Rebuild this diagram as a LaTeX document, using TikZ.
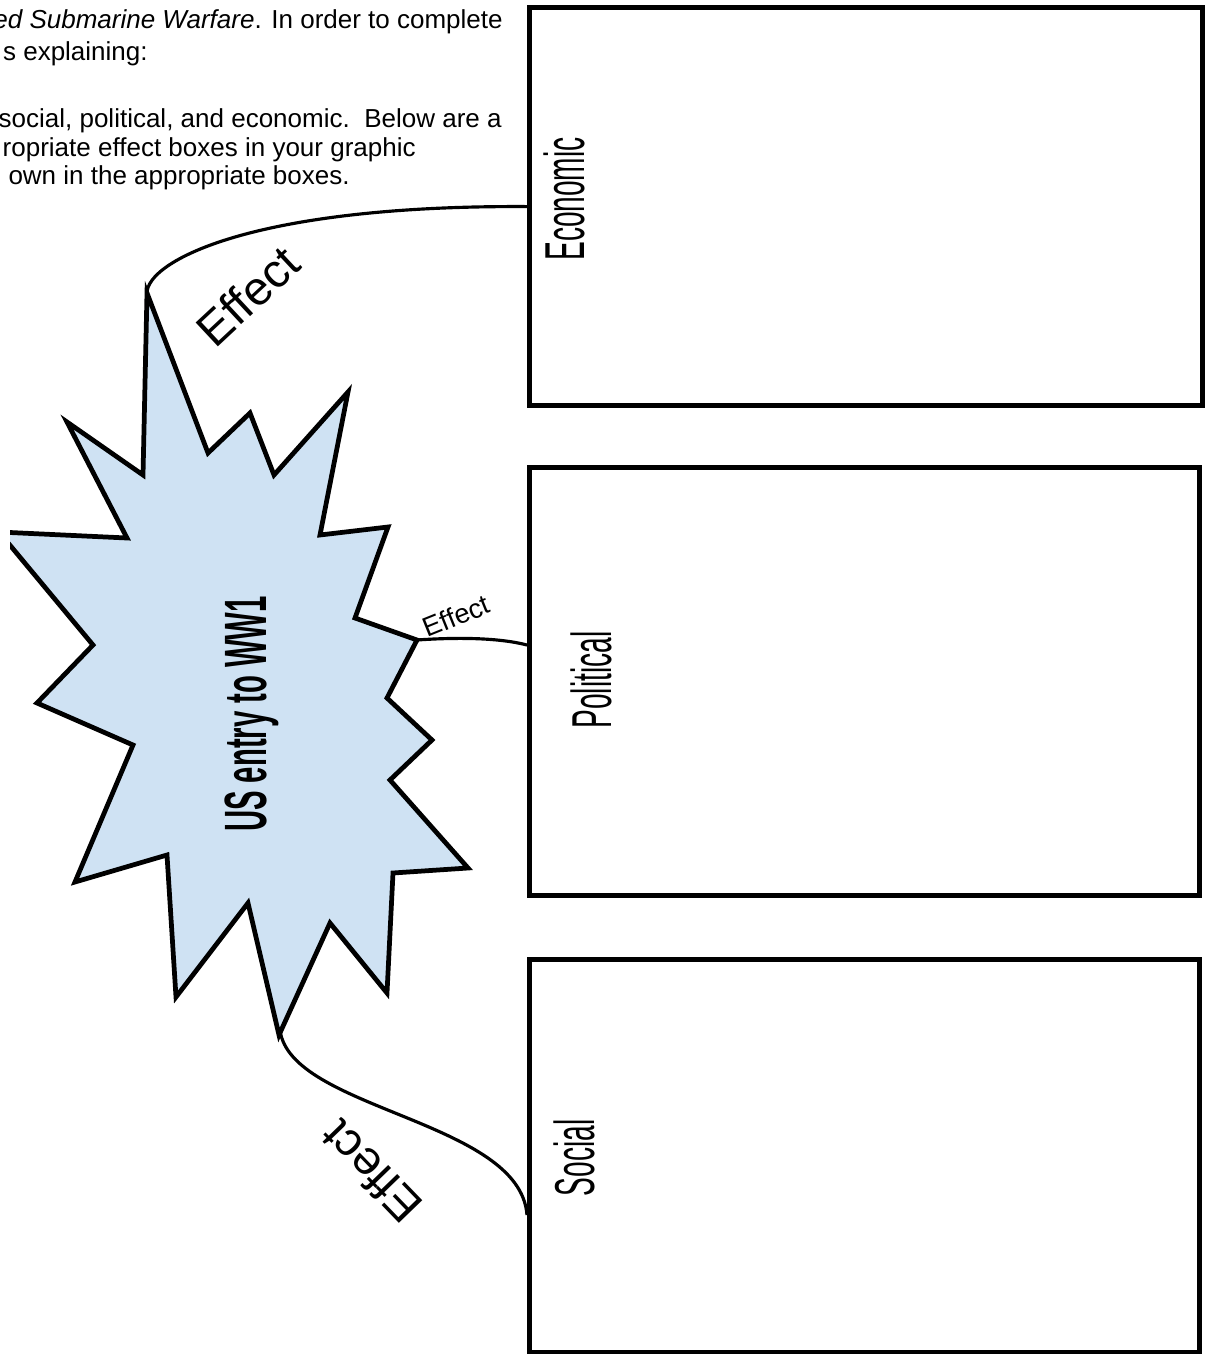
\documentclass[tikz,border=0pt]{standalone}
\usepackage{fontspec}
\setmainfont{Liberation Sans}
\newfontfamily\boxlabelfont[FakeStretch=0.5]{Liberation Sans}
\newfontfamily\burstfont[FakeStretch=0.49]{Liberation Sans}
\usepackage{xcolor}
\definecolor{burstfill}{RGB}{207, 226, 243}
\usepackage{tikz}
\usetikzlibrary{calc}

\begin{document}
\begin{tikzpicture}[x=0.02cm, y=-0.02cm,
  effectbox/.style={draw, line width=3pt, anchor=north west, inner sep=0pt},
  boxlabel/.style={rotate=90, inner sep=0pt, font=\boxlabelfont\fontsize{32}{36}\selectfont},
  effectlabel/.style={inner sep=0pt, font=\fontsize{#1}{#1}\selectfont},
  textline/.style={anchor=base east, inner sep=0pt, font=\fontsize{14.8}{17}\selectfont},
  link/.style={line width=1.8pt}]
  \useasboundingbox (0,0) rectangle (1211,1354);
  % instructions, cut off at the left
  \node[textline] (line1) at (503,29) {\textit{ed Submarine Warfare}. In order to complete};
  \node[textline] (line2) at (148,61) {s explaining:};
  \node[textline] (line3) at (502,128) {social, political, and economic.\ \ Below are a};
  \node[textline] (line4) at (416,157) {ropriate effect boxes in your graphic};
  \node[textline] (line5) at (350,185) {own in the appropriate boxes.};
  % effect boxes
  \node[effectbox, minimum width=13.46cm, minimum height=7.96cm] (econ) at (527,5) {};
  \node[effectbox, minimum width=13.4cm, minimum height=8.56cm] (pol) at (527,465) {};
  \node[effectbox, minimum width=13.4cm, minimum height=7.86cm] (soc) at (527,957) {};
  \node[boxlabel] (econlabel) at (564,199) {Economic};
  \node[boxlabel] (pollabel) at (591,680) {Political};
  \node[boxlabel] (soclabel) at (574,1158) {Social};
  % the burst, cut at the left edge
  \begin{scope}
    \clip (10,0) rectangle (1211,1354);
    \draw[fill=burstfill, line width=2.7pt] (147,293) -- (208,453) -- (250,413) -- (274,475)
      -- (348,392) -- (320,535) -- (388,527) -- (355,618) -- (417,640) -- (387,698)
      -- (432,740) -- (390,780) -- (468,868) -- (393,873) -- (387,993) -- (330,923)
      -- (279,1035) -- (248,903) -- (176,997) -- (167,855) -- (75,882) -- (133,745)
      -- (37,703) -- (93,645) -- (-1,532) -- (127,538) -- (67,422) -- (143,475) -- cycle;
  \end{scope}
  \node[rotate=90, inner sep=0pt, font=\burstfont\bfseries\fontsize{34}{36}\selectfont] (burstlabel) at (252,714) {US entry to WW1};
  \coordinate (econtip) at (147,293);
  \coordinate (poltip) at (417,640);
  \coordinate (soctip) at (280,1030);
  \coordinate (polin) at (527,645);
  \coordinate (socin) at (527,1215);
  % connectors
  \draw[link] (econtip) .. controls (147,262) and (250,205) .. (econ.west);
  \draw[link] (poltip) .. controls (460,637) and (500,638) .. (polin);
  \draw[link] (soctip) .. controls (290,1110) and (520,1120) .. (socin);
  \node[effectlabel=27, rotate=43] (effect1) at (248,296) {Effect};
  \node[effectlabel=15.5, rotate=22] (effect2) at (456,616) {Effect};
  \node[effectlabel=27, rotate=134] (effect3) at (371,1172) {Effect};
\end{tikzpicture}
\end{document}
